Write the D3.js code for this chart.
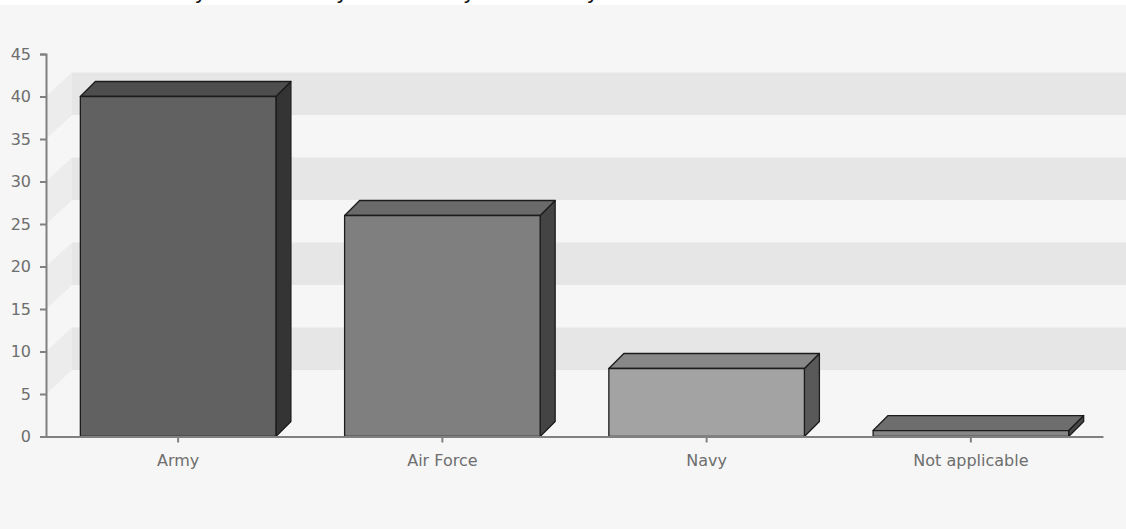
<!DOCTYPE html>
<html>
<head>
<meta charset="utf-8">
<script src="https://cdn.jsdelivr.net/npm/d3@7/dist/d3.min.js"></script>
<style>
  html, body { margin: 0; padding: 0; background: #ffffff; }
  svg { display: block; }
</style>
</head>
<body>
<svg id="chart" width="1126" height="529"></svg>
<script>
// Responses per military service
const categories = ["Army", "Air Force", "Navy", "Not applicable"];
const counts = [40, 26, 8, 0.7];
const yTicks = [0, 5, 10, 15, 20, 25, 30, 35, 40, 45];
const bandRanges = [[5, 10], [15, 20], [25, 30], [35, 40]];
const title = "4. In which military service are you currently or formerly associated?";

// shades for each bar: front, top, side
const frontFill = ["#616161", "#7f7f7f", "#a3a3a3", "#878787"];
const topFill   = ["#4e4e4e", "#6a6a6a", "#888888", "#6e6e6e"];
const sideFill  = ["#343434", "#444444", "#595959", "#474747"];

const W = 1126, H = 529;
const plot = { left: 46, right: 1103, top: 54, bottom: 436.5 };
const depth = 15;                 // bar extrusion
const wall = { dx: 26, dy: 24 };  // back wall offset

const svg = d3.select("#chart");

// page header strip (question text sits above the chart area) and chart background
svg.append("rect").attr("x", 0).attr("y", 0).attr("width", W).attr("height", 5).attr("fill", "#ffffff");
svg.append("text")
  .attr("x", 6).attr("y", -1)
  .attr("font-family", "'DejaVu Sans', sans-serif")
  .attr("font-size", 21)
  .attr("fill", "#111")
  .text(title);
svg.append("rect").attr("x", 0).attr("y", 5).attr("width", W).attr("height", H - 5).attr("fill", "#f6f6f6");

const y = d3.scaleLinear().domain([0, 45]).range([plot.bottom, plot.top]);
const x = d3.scaleBand().domain(categories)
  .range([plot.left, plot.right])
  .paddingInner(0.26).paddingOuter(0.13);

// alternating bands on the side and back walls
const bands = svg.append("g");
bandRanges.forEach(([lo, hi]) => {
  const yl = y(lo), yh = y(hi);
  bands.append("path")
    .attr("d", `M${plot.left},${yh} L${plot.left + wall.dx},${yh - wall.dy} L${plot.left + wall.dx},${yl - wall.dy} L${plot.left},${yl} Z`)
    .attr("fill", "#ececec");
  bands.append("rect")
    .attr("x", plot.left + wall.dx).attr("y", yh - wall.dy)
    .attr("width", W - plot.left - wall.dx).attr("height", yl - yh)
    .attr("fill", "#e6e6e6");
});

// 3D bars
const bars = svg.append("g").attr("stroke", "#1c1c1c").attr("stroke-width", 1.3).attr("stroke-linejoin", "round");
categories.forEach((c, i) => {
  const x0 = x(c), x1 = x0 + x.bandwidth();
  const yt = y(counts[i]), yb = y(0);
  const g = bars.append("g");
  g.append("path")
    .attr("d", `M${x1},${yt} L${x1 + depth},${yt - depth} L${x1 + depth},${yb - depth} L${x1},${yb} Z`)
    .attr("fill", sideFill[i]);
  g.append("path")
    .attr("d", `M${x0},${yt} L${x0 + depth},${yt - depth} L${x1 + depth},${yt - depth} L${x1},${yt} Z`)
    .attr("fill", topFill[i]);
  g.append("rect")
    .attr("x", x0).attr("y", yt)
    .attr("width", x.bandwidth()).attr("height", yb - yt)
    .attr("fill", frontFill[i]);
});

// y axis
const yAxis = svg.append("g")
  .attr("transform", `translate(${plot.left},0)`)
  .call(d3.axisLeft(y).tickValues(yTicks).tickSize(6).tickPadding(9).tickFormat(d3.format("d")));
yAxis.select(".domain").attr("stroke", "#808080").attr("stroke-width", 2);
yAxis.selectAll(".tick line").attr("stroke", "#808080").attr("stroke-width", 2);
yAxis.selectAll(".tick text")
  .attr("fill", "#6e6e6e")
  .attr("font-family", "'DejaVu Sans', sans-serif")
  .attr("font-size", 16);

// x axis
const xAxis = svg.append("g")
  .attr("transform", `translate(0,${plot.bottom})`)
  .call(d3.axisBottom(x).tickSize(6).tickSizeOuter(0).tickPadding(12));
xAxis.select(".domain").attr("stroke", "#808080").attr("stroke-width", 2);
xAxis.selectAll(".tick line").attr("stroke", "#808080").attr("stroke-width", 2);
xAxis.selectAll(".tick text")
  .attr("fill", "#6e6e6e")
  .attr("font-family", "'DejaVu Sans', sans-serif")
  .attr("font-size", 16);
</script>
</body>
</html>
